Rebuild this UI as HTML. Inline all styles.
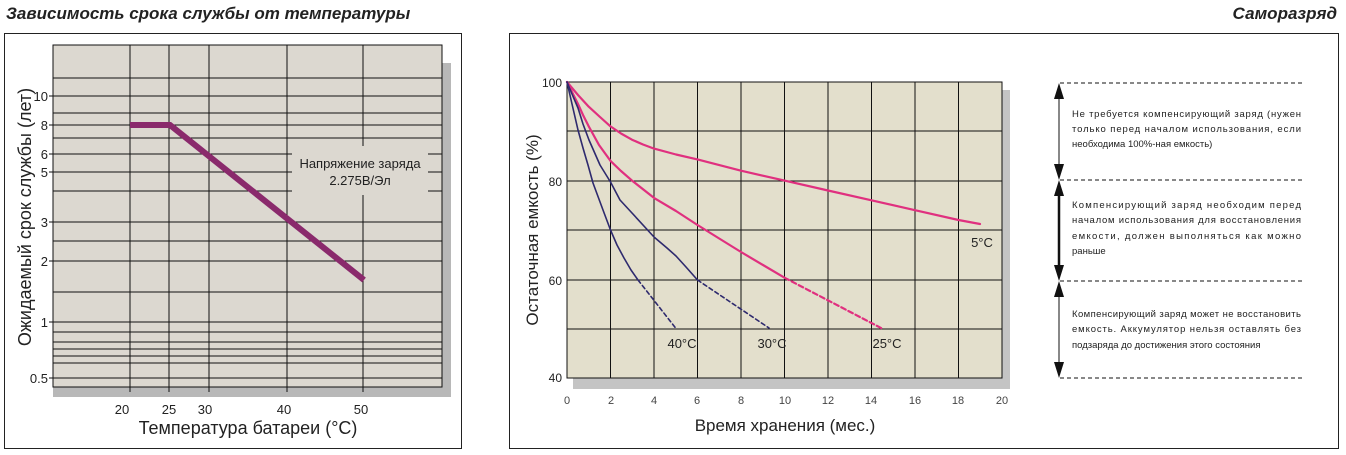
<!DOCTYPE html>
<html><head><meta charset="utf-8"><style>
body{margin:0;background:#fff;width:1346px;height:455px;overflow:hidden;font-family:"Liberation Sans",sans-serif}
svg{position:absolute;left:0;top:0}
</style></head><body>
<svg width="1346" height="455" viewBox="0 0 1346 455" font-family="Liberation Sans, sans-serif">
<text x="6" y="19" font-size="17" font-weight="bold" font-style="italic" fill="#222">Зависимость срока службы от температуры</text>
<text x="1337" y="19" font-size="17" font-weight="bold" font-style="italic" fill="#222" text-anchor="end">Саморазряд</text>
<!-- left chart -->
<rect x="4.5" y="33.5" width="457" height="415" fill="#fff" stroke="#222" stroke-width="1"/>
<rect x="53" y="63" width="398" height="334" fill="#b8b8b8"/>
<rect x="53" y="45" width="389" height="342" fill="#dcd8d0" stroke="#111" stroke-width="1"/>
<g stroke="#111" stroke-width="1">
<line x1="130" y1="45" x2="130" y2="392"/><line x1="169" y1="45" x2="169" y2="392"/><line x1="209" y1="45" x2="209" y2="392"/><line x1="287" y1="45" x2="287" y2="392"/><line x1="363" y1="45" x2="363" y2="392"/>
<line x1="53" y1="78" x2="442" y2="78"/><line x1="49" y1="96" x2="442" y2="96"/><line x1="53" y1="113" x2="442" y2="113"/><line x1="49" y1="125" x2="442" y2="125"/><line x1="53" y1="138" x2="442" y2="138"/><line x1="49" y1="154" x2="442" y2="154"/><line x1="49" y1="172" x2="442" y2="172"/><line x1="53" y1="191" x2="442" y2="191"/><line x1="49" y1="222" x2="442" y2="222"/><line x1="53" y1="241" x2="442" y2="241"/><line x1="49" y1="261" x2="442" y2="261"/><line x1="53" y1="292" x2="442" y2="292"/><line x1="49" y1="322" x2="442" y2="322"/><line x1="53" y1="332" x2="442" y2="332"/><line x1="53" y1="342" x2="442" y2="342"/><line x1="53" y1="349" x2="442" y2="349"/><line x1="53" y1="356" x2="442" y2="356"/><line x1="53" y1="363" x2="442" y2="363"/><line x1="49" y1="378" x2="442" y2="378"/>
</g>
<rect x="292" y="146" width="136" height="49" fill="#dcd8d0"/>
<text x="360" y="168" font-size="13" fill="#222" text-anchor="middle">Напряжение заряда</text>
<text x="360" y="185" font-size="13" fill="#222" text-anchor="middle">2.275В/Эл</text>
<polyline points="130,125 170,125 364,280" fill="none" stroke="#8a2a6c" stroke-width="6"/>
<g font-size="13" fill="#222" text-anchor="end">
<text x="48" y="101">10</text><text x="48" y="130">8</text><text x="48" y="159">6</text><text x="48" y="177">5</text><text x="48" y="227">3</text><text x="48" y="266">2</text><text x="48" y="327">1</text><text x="48" y="383">0.5</text>
</g>
<g font-size="13" fill="#222" text-anchor="middle">
<text x="122" y="414">20</text><text x="169" y="414">25</text><text x="205" y="414">30</text><text x="284" y="414">40</text><text x="361" y="414">50</text>
</g>
<text x="248" y="434" font-size="18" fill="#222" text-anchor="middle">Температура батареи (°С)</text>
<text transform="translate(31,217) rotate(-90)" font-size="18" fill="#222" text-anchor="middle">Ожидаемый срок службы (лет)</text>
<!-- right chart -->
<rect x="509.5" y="33.5" width="829" height="415" fill="#fff" stroke="#222" stroke-width="1"/>
<rect x="573" y="90" width="437" height="299" fill="#c4c4c4"/>
<rect x="567" y="82" width="435" height="296" fill="#e3dfcc" stroke="#111" stroke-width="1"/>
<g stroke="#111" stroke-width="1">
<line x1="610.5" y1="82" x2="610.5" y2="378"/><line x1="654" y1="82" x2="654" y2="378"/><line x1="697.5" y1="82" x2="697.5" y2="378"/><line x1="741" y1="82" x2="741" y2="378"/><line x1="784.5" y1="82" x2="784.5" y2="378"/><line x1="828" y1="82" x2="828" y2="378"/><line x1="871.5" y1="82" x2="871.5" y2="378"/><line x1="915" y1="82" x2="915" y2="378"/><line x1="958.5" y1="82" x2="958.5" y2="378"/>
<line x1="567" y1="131" x2="1002" y2="131"/><line x1="567" y1="181" x2="1002" y2="181"/><line x1="567" y1="230" x2="1002" y2="230"/><line x1="567" y1="280" x2="1002" y2="280"/><line x1="567" y1="329" x2="1002" y2="329"/>
</g>
<g fill="none" stroke-linejoin="round" stroke-linecap="round">
<polyline stroke="#e0307f" stroke-width="2.2" points="567,82 578,95 588.75,106.7 600,117 610.5,126.4 621,133.5 632,139.7 643,144.5 654,148.6 676,154.5 697.5,159.4 741,170.7 784.5,180.6 828,190.5 871.5,200.3 915,210.2 958.5,220 980,224"/>
<polyline stroke="#e0307f" stroke-width="2.2" points="567,82 572,92 578,104 583,115 588.75,126.4 599,145 610.5,160.9 621,171 632,180.6 654,197.9 676,211 697.5,225 720,239 741,252 763,265 784.5,277.7"/>
<line x1="784.5" y1="277.7" x2="882" y2="328.5" stroke="#e0307f" stroke-width="2.2" stroke-dasharray="5,3"/>
<polyline stroke="#2e2a6e" stroke-width="1.6" points="567,82 572,94 578,108 583,124 589,140 600,165 610.5,182 620,200 632,213 654,237 667,248 676,256 686,267 697.5,280"/>
<line x1="697.5" y1="280" x2="769" y2="328" stroke="#2e2a6e" stroke-width="1.6" stroke-dasharray="4,3"/>
<polyline stroke="#2e2a6e" stroke-width="1.6" points="567,82 572,104 578,130 583,148 588,165 593,183 603,210 610.5,230 617,245 624,258 631,270 638,280"/>
<line x1="638" y1="280" x2="676" y2="328.5" stroke="#2e2a6e" stroke-width="1.6" stroke-dasharray="4,3"/>
</g>
<g font-size="13" fill="#222" text-anchor="middle">
<text x="682" y="348">40°С</text><text x="772" y="348">30°С</text><text x="887" y="348">25°С</text><text x="982" y="247">5°С</text>
</g>
<g font-size="12" fill="#222" text-anchor="end">
<text x="562" y="87">100</text><text x="562" y="186">80</text><text x="562" y="285">60</text><text x="562" y="382">40</text>
</g>
<g font-size="11" fill="#444" text-anchor="middle">
<text x="567" y="404">0</text><text x="611" y="404">2</text><text x="654" y="404">4</text><text x="697" y="404">6</text><text x="741" y="404">8</text><text x="785" y="404">10</text><text x="828" y="404">12</text><text x="871" y="404">14</text><text x="915" y="404">16</text><text x="958" y="404">18</text><text x="1002" y="404">20</text>
</g>
<text x="785" y="431" font-size="17" fill="#222" text-anchor="middle">Время хранения (мес.)</text>
<text transform="translate(538,230) rotate(-90)" font-size="17" fill="#222" text-anchor="middle">Остаточная емкость (%)</text>
<!-- annotations -->
<g stroke="#111" stroke-width="1" stroke-dasharray="4,3">
<line x1="1060" y1="83" x2="1303" y2="83"/><line x1="1060" y1="180" x2="1303" y2="180"/><line x1="1060" y1="281" x2="1303" y2="281"/><line x1="1060" y1="378" x2="1303" y2="378"/>
</g>
<g stroke="#111">
<line x1="1059" y1="90" x2="1059" y2="172" stroke-width="1"/>
<line x1="1059" y1="188" x2="1059" y2="273" stroke-width="2.5"/>
<line x1="1059" y1="289" x2="1059" y2="370" stroke-width="1"/>
</g>
<g fill="#111">
<polygon points="1054,99 1064,99 1059,83"/><polygon points="1054,164 1064,164 1059,180"/>
<polygon points="1054,196 1064,196 1059,180"/><polygon points="1054,265 1064,265 1059,281"/>
<polygon points="1054,297 1064,297 1059,281"/><polygon points="1054,362 1064,362 1059,378"/>
</g>
<g font-size="9.5" fill="#222">
<text x="1072" y="117" textLength="229" lengthAdjust="spacing">Не требуется компенсирующий заряд (нужен</text>
<text x="1072" y="132" textLength="229" lengthAdjust="spacing">только перед началом использования, если</text>
<text x="1072" y="147">необходима 100%-ная емкость)</text>
<text x="1072" y="208" textLength="229" lengthAdjust="spacing">Компенсирующий заряд необходим перед</text>
<text x="1072" y="223" textLength="229" lengthAdjust="spacing">началом использования для восстановления</text>
<text x="1072" y="239" textLength="229" lengthAdjust="spacing">емкости, должен выполняться как можно</text>
<text x="1072" y="254">раньше</text>
<text x="1072" y="317" textLength="229" lengthAdjust="spacing">Компенсирующий заряд может не восстановить</text>
<text x="1072" y="332" textLength="229" lengthAdjust="spacing">емкость. Аккумулятор нельзя оставлять без</text>
<text x="1072" y="348">подзаряда до достижения этого состояния</text>
</g>
</svg>
</body></html>
